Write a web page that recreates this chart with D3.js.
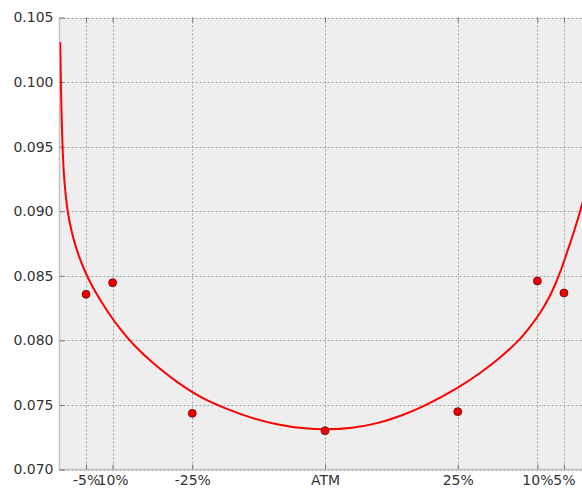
<!DOCTYPE html>
<html>
<head>
<meta charset="utf-8">
<script src="https://cdn.jsdelivr.net/npm/d3@7/dist/d3.min.js"></script>
<style>
  html, body { margin: 0; padding: 0; background: #ffffff; }
  svg { display: block; }
</style>
</head>
<body>
<svg id="chart" width="582" height="488"></svg>
<script>
// ---- data ----
const deltas = [0.05, 0.10, 0.25, 0.50, 0.75, 0.90, 0.95];
const tickLabels = ["-5%", "10%", "-25%", "ATM", "25%", "10%", "5%"];
const marketVols = [0.08357, 0.08446, 0.07435, 0.07300, 0.07448, 0.08460, 0.08367];

// fitted smile
const curveDeltas = [0.00132, 0.00207, 0.00282, 0.00395, 0.00565, 0.00810, 0.01130, 0.01563,
  0.02072, 0.02731, 0.03484, 0.04237, 0.05122, 0.06309, 0.07627, 0.09510, 0.11394, 0.14218,
  0.17420, 0.22128, 0.26836, 0.31544, 0.36252, 0.40960, 0.45669, 0.50377,
  0.55085, 0.59793, 0.64501, 0.68832, 0.74859, 0.79190, 0.82957, 0.86403, 0.88606,
  0.90490, 0.92185, 0.93503, 0.94633, 0.95763, 0.96893, 0.97834, 0.98399, 0.98964,
  0.99435, 0.99755, 0.99906];
const curveVols = [0.10310, 0.10132, 0.09954, 0.09745, 0.09513, 0.09304, 0.09141, 0.08996,
  0.08886, 0.08773, 0.08673, 0.08591, 0.08506, 0.08409, 0.08316, 0.08196, 0.08091, 0.07956,
  0.07832, 0.07679, 0.07557, 0.07469, 0.07400, 0.07351, 0.07321, 0.07311,
  0.07323, 0.07359, 0.07420, 0.07496, 0.07630, 0.07747, 0.07867, 0.07998, 0.08105,
  0.08212, 0.08332, 0.08448, 0.08568, 0.08704, 0.08843, 0.08971, 0.09052, 0.09141,
  0.09242, 0.09397, 0.09552];

const yTicks = [0.070, 0.075, 0.080, 0.085, 0.090, 0.095, 0.100, 0.105];

// ---- layout ----
const pL = 59.5, pR = 590.5, pT = 17.5, pB = 469.5;
const svg = d3.select("#chart");
const x = d3.scaleLinear().domain([0, 1]).range([pL, pR]);
const y = d3.scaleLinear().domain([0.070, 0.105]).range([pB, pT]);

svg.append("defs").append("clipPath").attr("id", "plotclip")
  .append("rect").attr("x", pL).attr("y", pT)
  .attr("width", pR - pL).attr("height", pB - pT);

svg.append("rect").attr("x", pL).attr("y", pT)
  .attr("width", pR - pL).attr("height", pB - pT)
  .attr("fill", "#eeeeee");

// grid
const grid = svg.append("g").attr("stroke", "#a4a4a4").attr("stroke-width", 1)
  .attr("stroke-dasharray", "2,2");
grid.selectAll("line.h").data(yTicks).join("line").attr("class", "h")
  .attr("x1", pL).attr("x2", pR)
  .attr("y1", d => Math.round(y(d)) + 0.5).attr("y2", d => Math.round(y(d)) + 0.5);
grid.selectAll("line.v").data(deltas).join("line").attr("class", "v")
  .attr("y1", pT).attr("y2", pB)
  .attr("x1", d => Math.round(x(d)) + 0.5).attr("x2", d => Math.round(x(d)) + 0.5);

// spines
svg.append("line").attr("x1", pL).attr("x2", pL).attr("y1", pT).attr("y2", pB + 1)
  .attr("stroke", "#c4c4c4").attr("stroke-width", 1.5);
svg.append("line").attr("x1", pL).attr("x2", pR).attr("y1", pB).attr("y2", pB)
  .attr("stroke", "#c4c4c4").attr("stroke-width", 1.5);

// axes
const yAxis = d3.axisLeft(y).tickValues(yTicks).tickFormat(d3.format(".3f"))
  .tickSizeInner(-5).tickSizeOuter(0).tickPadding(6);
const gy = svg.append("g").attr("transform", `translate(${pL},0)`).call(yAxis);
gy.select(".domain").remove();
gy.selectAll(".tick line").attr("stroke", "#777");
gy.selectAll(".tick text").attr("font-family", "DejaVu Sans").attr("font-size", 14)
  .attr("fill", "#333333");

const xAxisB = d3.axisBottom(x).tickValues(deltas).tickFormat((d, i) => tickLabels[i])
  .tickSizeInner(-5).tickSizeOuter(0).tickPadding(6);
const gx = svg.append("g").attr("transform", `translate(0,${pB})`).call(xAxisB);
gx.select(".domain").remove();
gx.selectAll(".tick line").attr("stroke", "#777");
gx.selectAll(".tick text").attr("font-family", "DejaVu Sans").attr("font-size", 14)
  .attr("fill", "#333333");

const xAxisT = d3.axisTop(x).tickValues(deltas).tickFormat("")
  .tickSizeInner(-5).tickSizeOuter(0);
const gt = svg.append("g").attr("transform", `translate(0,${pT})`).call(xAxisT);
gt.select(".domain").remove();
gt.selectAll(".tick line").attr("stroke", "#777");

// fitted curve
const pts = curveDeltas.map((d, i) => [d, curveVols[i]]);
svg.append("path").datum(pts)
  .attr("clip-path", "url(#plotclip)")
  .attr("fill", "none").attr("stroke", "#ff0000").attr("stroke-width", 2)
  .attr("d", d3.line().x(d => x(d[0])).y(d => y(d[1])).curve(d3.curveCatmullRom.alpha(0.5)));

// market points
svg.append("g").selectAll("circle").data(deltas).join("circle")
  .attr("cx", d => x(d)).attr("cy", (d, i) => y(marketVols[i]))
  .attr("r", 4).attr("fill", "#ee0000").attr("stroke", "#5a0000").attr("stroke-width", 0.7);
</script>
</body>
</html>
